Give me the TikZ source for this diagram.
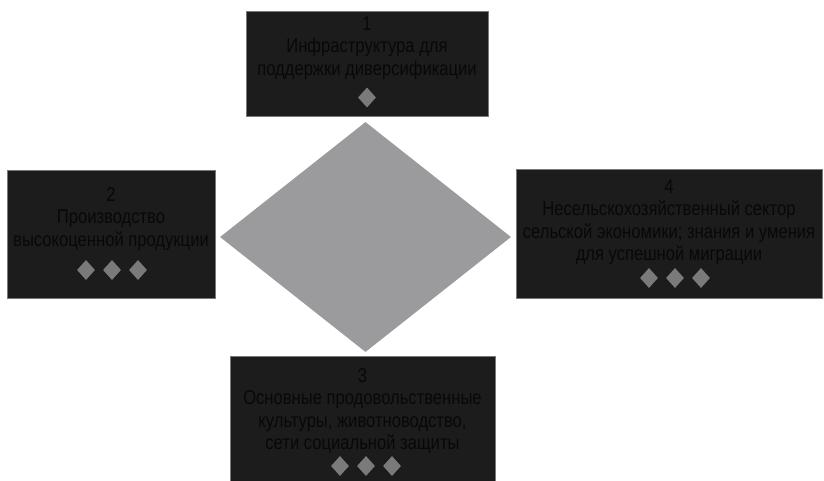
\documentclass[tikz,border=0pt]{standalone}
\usepackage{fontspec}
\setmainfont{Liberation Sans}[FakeStretch=0.83]
\usetikzlibrary{shapes.geometric,positioning}
\definecolor{boxfill}{RGB}{28,28,28}
\definecolor{panelline}{RGB}{120,120,120}
\definecolor{hubgrey}{RGB}{155,155,158}
\definecolor{gemgrey}{RGB}{122,122,122}
\definecolor{inktext}{RGB}{8,8,8}

\begin{document}
\begin{tikzpicture}[x=1pt,y=-1pt]
\tikzset{panel/.style={draw=panelline,fill=boxfill,line width=0.8pt,inner sep=0pt},
  caption/.style={align=center,text=inktext,inner sep=0pt,font=\fontsize{20}{22.5}\selectfont},
  gem/.style={diamond,fill=gemgrey,inner sep=0pt,minimum width=18pt,minimum height=20pt}}
\useasboundingbox (0,0) rectangle (824,480);
% central rhombus
\node[diamond,fill=hubgrey,inner sep=0pt,minimum width=291pt,minimum height=230pt] (hub) at (365.5,237) {};
% 1
\node[panel,minimum width=242pt,minimum height=105pt] (box1) at (367,63.5) {};
\node[caption] (txt1) at (367,48) {1\\Инфраструктура для\\поддержки диверсификации};
\node[gem] (g1) at (367,97.5) {};
% 2
\node[panel,minimum width=208pt,minimum height=128pt] (box2) at (111,234) {};
\node[caption] (txt2) at (111,219) {2\\Производство\\высокоценной продукции};
\foreach \i/\dx in {a/-26,b/0,c/26}
  \node[gem] (g2\i) at ({112+\dx},270) {};
% 4
\node[panel,minimum width=306pt,minimum height=129pt] (box4) at (669,233.5) {};
\node[caption] (txt4) at (669,222) {4\\Несельскохозяйственный сектор\\сельской экономики; знания и умения\\для успешной миграции};
\foreach \i/\dx in {a/-26,b/0,c/26}
  \node[gem] (g4\i) at ({675+\dx},278) {};
% 3
\node[panel,minimum width=265pt,minimum height=126pt] (box3) at (362.5,419) {};
\node[caption] (txt3) at (362.5,411) {3\\Основные продовольственные\\культуры, животноводство,\\сети социальной защиты};
\foreach \i/\dx in {a/-26,b/0,c/26}
  \node[gem] (g3\i) at ({366+\dx},466) {};
\end{tikzpicture}
\end{document}
